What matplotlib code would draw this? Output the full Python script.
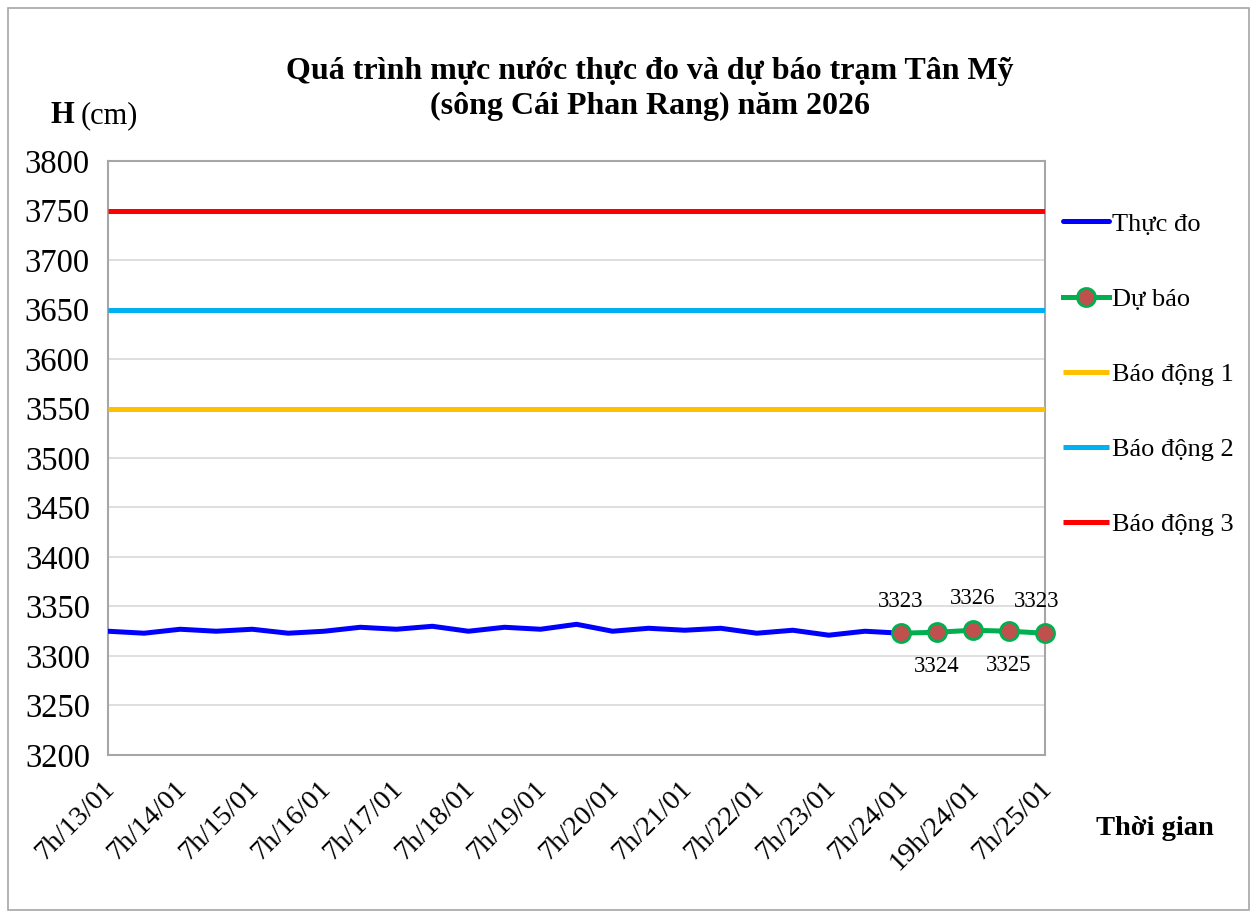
import matplotlib.pyplot as plt
from matplotlib.patches import Rectangle
from matplotlib.transforms import ScaledTranslation

plt.rcParams['font.family'] = ['Liberation Serif', 'DejaVu Serif']

# nhãn trục x (mỗi 2 mốc mới có nhãn)
moc_thoi_gian = ['7h/13/01', '', '7h/14/01', '', '7h/15/01', '', '7h/16/01', '',
                 '7h/17/01', '', '7h/18/01', '', '7h/19/01', '', '7h/20/01', '',
                 '7h/21/01', '', '7h/22/01', '', '7h/23/01', '', '7h/24/01', '',
                 '19h/24/01', '', '7h/25/01']

# mực nước thực đo (7h và 19h mỗi ngày)
thuc_do = [3325, 3323, 3327, 3325, 3327, 3323, 3325, 3329, 3327, 3330, 3325, 3329,
           3327, 3332, 3325, 3328, 3326, 3328, 3323, 3326, 3321, 3325, 3323]

# dự báo 7h/24 -> 7h/25
du_bao = [3323, 3324, 3326, 3325, 3323]

bao_dong_1 = 3550
bao_dong_2 = 3650
bao_dong_3 = 3750

n = len(moc_thoi_gian)
x_thuc_do = list(range(len(thuc_do)))
x_du_bao = list(range(len(thuc_do) - 1, len(thuc_do) - 1 + len(du_bao)))

fig = plt.figure(figsize=(12.55, 9.15), dpi=100)
fig.patches.append(Rectangle((0.006, 0.005), 0.989, 0.986, transform=fig.transFigure,
                             fill=False, edgecolor='#A6A6A6', linewidth=1.2))
ax = fig.add_axes([0.0861, 0.1749, 0.7466, 0.6491])

ax.plot(x_thuc_do, thuc_do, color='#0000FF', lw=3.6, solid_joinstyle='round',
        solid_capstyle='round', label='Thực đo', zorder=4)
ax.plot(x_du_bao, du_bao, color='#00B050', lw=3.6, marker='o', markersize=13,
        markerfacecolor='#C0504D', markeredgecolor='#00B050', markeredgewidth=2,
        label='Dự báo', zorder=5, clip_on=False)
ax.hlines(bao_dong_1, 0, n - 1, color='#FFC000', lw=3.6, label='Báo động 1', zorder=3)
ax.hlines(bao_dong_2, 0, n - 1, color='#00B0F0', lw=3.6, label='Báo động 2', zorder=3)
ax.hlines(bao_dong_3, 0, n - 1, color='#FF0000', lw=3.6, label='Báo động 3', zorder=3)

# nhãn giá trị dự báo, xen kẽ trên / dưới
for i, (xv, yv) in enumerate(zip(x_du_bao, du_bao)):
    if i % 2 == 0:
        dx = -6 if i == len(du_bao) - 1 else 0
        ax.annotate(str(yv), (xv, yv), xytext=(dx, 15), textcoords='offset points',
                    ha='center', va='bottom', fontsize=16.5)
    else:
        ax.annotate(str(yv), (xv, yv), xytext=(0, -17), textcoords='offset points',
                    ha='center', va='top', fontsize=16.5)

ax.set_xlim(0, n - 1)
ax.set_ylim(3200, 3800)
ax.set_yticks(range(3200, 3801, 50))
ax.yaxis.grid(True, color='#D9D9D9', lw=1.2)
ax.set_axisbelow(True)
ax.tick_params(axis='y', length=0, labelsize=23.5, pad=13)
ax.tick_params(axis='x', length=0, labelsize=20.5, pad=8)
ax.set_xticks(range(n))
ax.set_xticklabels(moc_thoi_gian, rotation=45, ha='right', rotation_mode='anchor')
dich = ScaledTranslation(-6 / 100, -10 / 100, fig.dpi_scale_trans)
for lb in ax.get_xticklabels():
    lb.set_transform(lb.get_transform() + dich)
for s in ax.spines.values():
    s.set_color('#A6A6A6')
    s.set_linewidth(1.5)

fig.text(0.518, 0.922, 'Quá trình mực nước thực đo và dự báo trạm Tân Mỹ',
         ha='center', va='center', fontsize=23, fontweight='bold')
fig.text(0.518, 0.884, '(sông Cái Phan Rang) năm 2026',
         ha='center', va='center', fontsize=23, fontweight='bold')
fig.text(0.04, 0.874, 'H', ha='left', va='center', fontsize=22, fontweight='bold')
fig.text(0.064, 0.874, '(cm)', ha='left', va='center', fontsize=22)
fig.text(0.873, 0.095, 'Thời gian', ha='left', va='center', fontsize=20.5, fontweight='bold')

ax.legend(loc='upper left', bbox_to_anchor=(1.0, 0.944), frameon=False, fontsize=19,
          handlelength=1.75, handletextpad=0.1, labelspacing=1.96,
          borderaxespad=0.38, borderpad=0.3)

fig.savefig('out.png', dpi=100)
